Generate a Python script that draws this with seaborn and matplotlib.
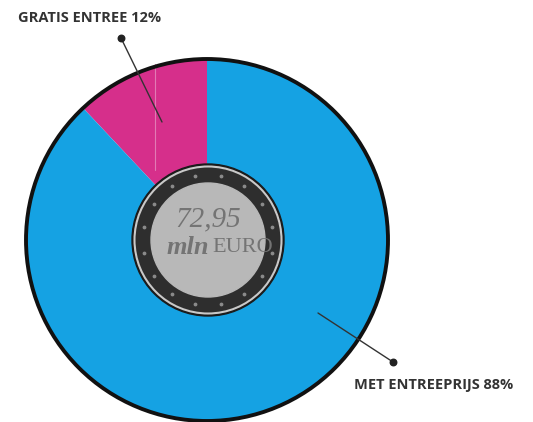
import numpy as np
import matplotlib
matplotlib.use('Agg')
import matplotlib.pyplot as plt
import seaborn as sns
from matplotlib.patches import Circle

sns.set_theme(style='white')

# data
labels = ['GRATIS ENTREE', 'MET ENTREEPRIJS']
shares = [12, 88]
colors = ['#d62f8b', '#15a2e3']
total_value = '72,95'
total_unit = 'EURO'

fig = plt.figure(figsize=(5.33, 4.22), dpi=100)
ax = fig.add_axes([0, 0, 1, 1])

cx, cy, r = 207, 182, 181

ax.pie(shares, colors=colors, startangle=90, counterclock=True,
       center=(cx, cy), radius=r, frame=True,
       wedgeprops=dict(edgecolor='none'))
ax.set_xlim(0, 533)
ax.set_ylim(0, 422)
ax.set_aspect('equal')
ax.axis('off')
ax.add_patch(Circle((cx, cy), r, fill=False, edgecolor='#111111', lw=2.8, zorder=3))
# thin light line inside the pink wedge
ax.plot([155, 155], [252, 358], color='#e27ab4', lw=0.8, zorder=2)

# coin in the middle
ax.add_patch(Circle((cx + 1, cy), 76, color='#1b1b1b', zorder=4))
ax.add_patch(Circle((cx + 1, cy), 73.5, fill=False, edgecolor='#c9c9c9', lw=1.5, zorder=5))
ax.add_patch(Circle((cx + 1, cy), 72, color='#2e2e2e', zorder=4.5))
ax.add_patch(Circle((cx + 1, cy), 57, color='#b8b8b8', zorder=6))
ang = np.linspace(0, 2 * np.pi, 16, endpoint=False) + np.pi / 16
ax.scatter(cx + 1 + 65 * np.cos(ang), cy + 65 * np.sin(ang), s=3, color='#8a8a8a', zorder=6)

ax.text(cx + 1, cy + 21, total_value, ha='center', va='center', fontsize=21,
        family='Liberation Serif', style='italic', color='#747474', zorder=7)
ax.text(188, cy - 7, 'mln', ha='center', va='center', fontsize=19,
        family='Liberation Serif', style='italic', weight='bold', color='#747474', zorder=7)
ax.text(243, cy - 7, total_unit, ha='center', va='center', fontsize=16,
        family='Liberation Serif', color='#747474', zorder=7)

# labels with leader lines
ax.plot([121, 162], [384, 300], color='#333333', lw=1, zorder=8)
ax.scatter([121], [384], s=22, color='#222222', zorder=9)
ax.text(18, 404, f'{labels[0]} {shares[0]}%', ha='left', va='center', fontsize=10.5,
        family='Open Sans', weight='bold', color='#333333')

ax.plot([393, 318], [60, 109], color='#333333', lw=1, zorder=8)
ax.scatter([393], [60], s=22, color='#222222', zorder=9)
ax.text(354, 37, f'{labels[1]} {shares[1]}%', ha='left', va='center', fontsize=10.5,
        family='Open Sans', weight='bold', color='#333333')

fig.savefig('out.png', dpi=100)
